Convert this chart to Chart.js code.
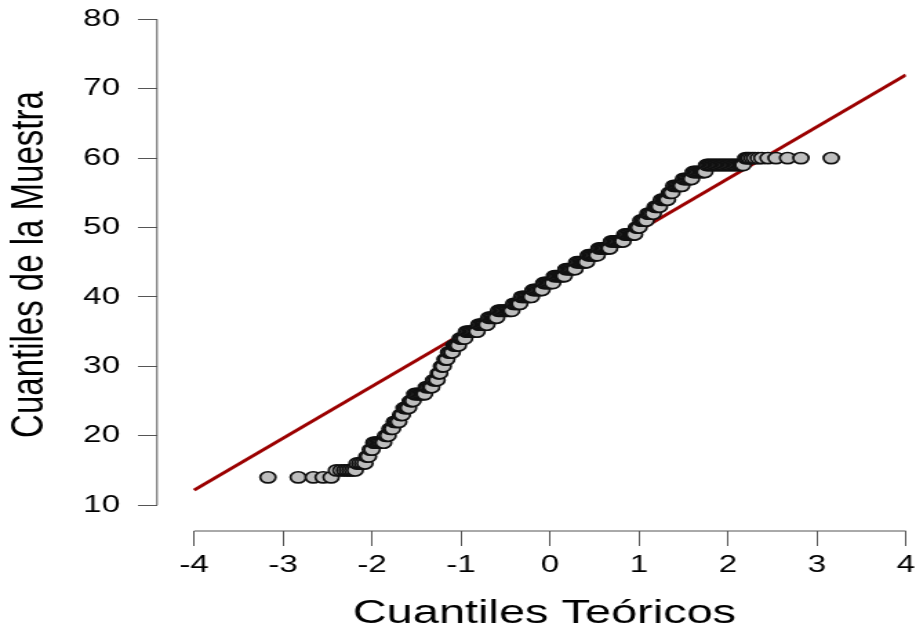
<!DOCTYPE html>
<html>
<head>
<meta charset="utf-8">
<script src="https://cdn.jsdelivr.net/npm/chart.js@4.4.0/dist/chart.umd.min.js"></script>
<style>
  html, body { margin: 0; padding: 0; background: #fff; overflow: hidden; }
  #qq { display: block; }
</style>
</head>
<body>
<canvas id="qq" width="664" height="638" style="width:916px;height:638px"></canvas>
<script>
// sample values (integer levels) and the theoretical quantiles read for each level
const sampleLevels = [14, 15, 16, 17, 18, 19, 20, 21, 22, 23, 24, 25, 26, 27, 28, 29, 30, 31, 32, 33,
  34, 35, 36, 37, 38, 39, 40, 41, 42, 43, 44, 45, 46, 47, 48, 49, 50, 51, 52, 53, 54, 55, 56, 57, 58, 59, 60];
const theoByLevel = [
  [-3.17, -2.83, -2.66, -2.55, -2.46],
  [-2.40, -2.35, -2.31, -2.28, -2.25, -2.22, -2.19],
  [-2.17, -2.14, -2.11, -2.08],
  [-2.06, -2.04],
  [-2.02, -2.00],
  [-1.98, -1.96, -1.94, -1.92, -1.90, -1.88, -1.87],
  [-1.85, -1.83, -1.82],
  [-1.80, -1.78, -1.77],
  [-1.75, -1.73, -1.71, -1.70],
  [-1.68, -1.67, -1.66],
  [-1.64, -1.62, -1.60, -1.59],
  [-1.57, -1.555, -1.54],
  [-1.52, -1.50, -1.48, -1.46, -1.44, -1.42, -1.41],
  [-1.39, -1.37, -1.35, -1.33],
  [-1.31, -1.29, -1.27],
  [-1.255, -1.24],
  [-1.22, -1.21, -1.20],
  [-1.18, -1.17, -1.16],
  [-1.14, -1.12, -1.10],
  [-1.08, -1.065, -1.05, -1.03],
  [-1.01, -0.995, -0.98, -0.96],
  [-0.94, -0.92, -0.90, -0.88, -0.86, -0.84, -0.82],
  [-0.80, -0.78, -0.76, -0.74, -0.72, -0.71],
  [-0.69, -0.67, -0.65, -0.63, -0.615, -0.60],
  [-0.58, -0.56, -0.54, -0.52, -0.50, -0.48, -0.46, -0.445, -0.43],
  [-0.41, -0.39, -0.37, -0.355, -0.34],
  [-0.32, -0.30, -0.28, -0.26, -0.24, -0.225, -0.21],
  [-0.19, -0.17, -0.15, -0.13, -0.11, -0.09],
  [-0.07, -0.05, -0.03, -0.01, 0.01, 0.03],
  [0.05, 0.07, 0.09, 0.11, 0.13, 0.145, 0.16],
  [0.18, 0.20, 0.22, 0.24, 0.26, 0.28],
  [0.30, 0.32, 0.34, 0.36, 0.38, 0.395, 0.41],
  [0.43, 0.45, 0.47, 0.49, 0.51, 0.53],
  [0.55, 0.57, 0.59, 0.61, 0.63, 0.65, 0.67],
  [0.69, 0.71, 0.73, 0.75, 0.77, 0.79, 0.805, 0.82],
  [0.84, 0.86, 0.88, 0.90, 0.92, 0.935, 0.95],
  [0.97, 0.985, 1.00],
  [1.02, 1.04, 1.06, 1.08],
  [1.10, 1.12, 1.14, 1.16],
  [1.18, 1.195, 1.21, 1.23],
  [1.25, 1.27, 1.29, 1.305, 1.32],
  [1.34, 1.355, 1.37],
  [1.39, 1.41, 1.43, 1.45, 1.465, 1.48],
  [1.50, 1.52, 1.54, 1.56, 1.575, 1.59],
  [1.61, 1.63, 1.65, 1.67, 1.69, 1.71, 1.725, 1.74],
  [1.76, 1.78, 1.80, 1.82, 1.84, 1.86, 1.88, 1.90, 1.92, 1.94, 1.96, 1.98, 2.00, 2.02, 2.04,
   2.06, 2.08, 2.10, 2.12, 2.14, 2.155, 2.17],
  [2.20, 2.22, 2.24, 2.27, 2.30, 2.34, 2.38, 2.45, 2.54, 2.67, 2.82, 3.16]
];

// reference line (qqline) end points
const lineX = [-4, 4];
const lineY = [12.15, 72.0];

const xTicks = [-4, -3, -2, -1, 0, 1, 2, 3, 4];
const yTicks = [10, 20, 30, 40, 50, 60, 70, 80];

const qqPoints = [];
sampleLevels.forEach((lvl, i) => {
  theoByLevel[i].forEach(q => qqPoints.push({ x: q, y: lvl }));
});
const linePoints = lineX.map((v, i) => ({ x: v, y: lineY[i] }));

const FONT = "'Liberation Sans', Arial, Helvetica, sans-serif";

// R style detached axis lines, spanning first to last tick only
const rAxes = {
  id: 'rAxes',
  afterDraw(chart) {
    const { ctx, chartArea, scales } = chart;
    const x = scales.x, y = scales.y;
    ctx.save();
    ctx.strokeStyle = '#555';
    ctx.lineWidth = 1;
    ctx.beginPath();
    ctx.moveTo(chartArea.left, y.getPixelForValue(yTicks[0]));
    ctx.lineTo(chartArea.left, y.getPixelForValue(yTicks[yTicks.length - 1]));
    ctx.moveTo(x.getPixelForValue(xTicks[0]), chartArea.bottom);
    ctx.lineTo(x.getPixelForValue(xTicks[xTicks.length - 1]), chartArea.bottom);
    ctx.stroke();
    ctx.restore();
  }
};

new Chart(document.getElementById('qq').getContext('2d'), {
  type: 'scatter',
  data: {
    datasets: [{
      label: 'muestra',
      data: qqPoints,
      pointRadius: 5.6,
      pointHoverRadius: 5.6,
      pointBackgroundColor: '#bebebe',
      pointBorderColor: '#111',
      pointBorderWidth: 1.7
    }, {
      label: 'qqline',
      data: linePoints,
      showLine: true,
      pointRadius: 0,
      borderColor: '#9b0000',
      borderWidth: 3
    }]
  },
  options: {
    responsive: false,
    animation: false,
    devicePixelRatio: 1,
    layout: { padding: 0 },
    plugins: { legend: { display: false }, tooltip: { enabled: false } },
    scales: {
      x: {
        type: 'linear',
        position: 'bottom',
        min: -4.417,
        max: 4.0,
        afterBuildTicks: s => { s.ticks = xTicks.map(v => ({ value: v })); },
        afterFit: s => { s.height = 107; s.paddingLeft = 0; s.paddingRight = 0; },
        ticks: { font: { family: FONT, size: 24 }, color: '#000', padding: 5, maxRotation: 0, autoSkip: false },
        grid: { drawOnChartArea: false, drawTicks: true, tickLength: 15, color: '#555', lineWidth: 1 },
        border: { display: false },
        title: { display: true, text: '  Cuantiles Teóricos', color: '#000',
                 font: { family: FONT, size: 34 }, padding: { top: 0, bottom: 4 } }
      },
      y: {
        type: 'linear',
        position: 'left',
        min: 6.27,
        max: 81.73,
        afterBuildTicks: s => { s.ticks = yTicks.map(v => ({ value: v })); },
        afterFit: s => { s.width = 113.8; s.paddingTop = 0; s.paddingBottom = 0; },
        ticks: { font: { family: FONT, size: 24 }, color: '#000', padding: 13, autoSkip: false },
        grid: { drawOnChartArea: false, drawTicks: true, tickLength: 13.8, color: '#555', lineWidth: 1 },
        border: { display: false },
        title: { display: true, text: ' Cuantiles de la Muestra', color: '#000',
                 font: { family: FONT, size: 33 }, padding: { top: 2, bottom: 0 } }
      }
    }
  },
  plugins: [rAxes]
});
</script>
</body>
</html>
